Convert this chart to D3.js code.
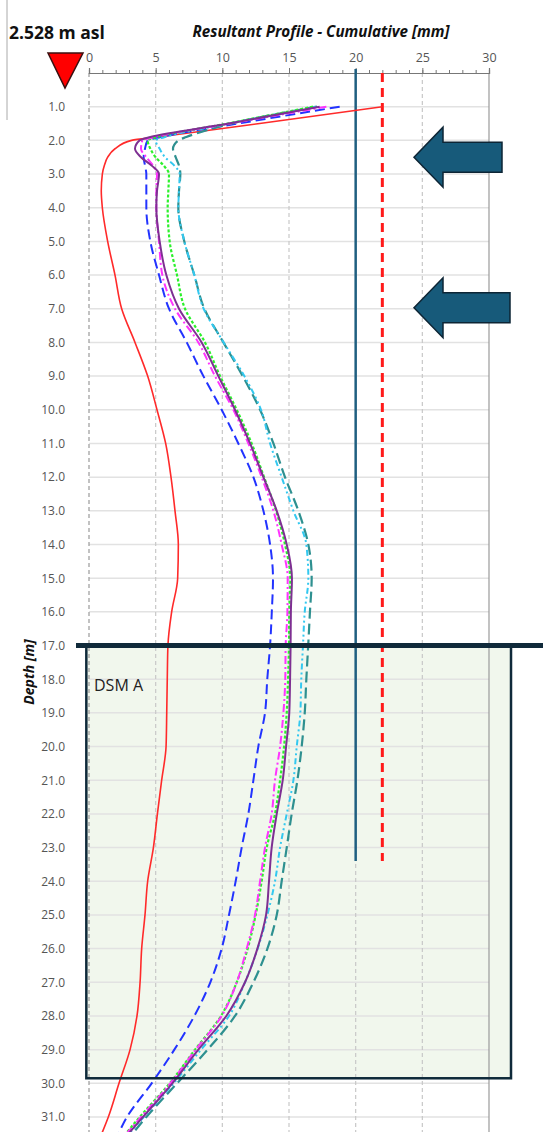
<!DOCTYPE html>
<html>
<head>
<meta charset="utf-8">
<script src="https://cdn.jsdelivr.net/npm/d3@7"></script>
<style>
  body { margin: 0; background: #fff; }
  svg { display: block; font-family: "Open Sans", Lato, sans-serif; }
</style>
</head>
<body>
<svg id="chart" width="543" height="1132"></svg>
<script>
// depth points (m) shared by every profile
const depths = [1.0, 1.5, 1.9, 2.0, 2.25, 2.5, 2.75, 3.0, 3.5, 4, 5, 6, 7, 8, 9, 10, 11, 12, 13, 14, 15,
  16, 17, 18, 19, 20, 21, 22, 23, 24, 25, 26, 27, 28, 29, 30, 31, 31.5];

// cumulative displacement (mm)
const red = [22.0, 12.8, 5.2, 3.2, 1.95, 1.4, 1.15, 1.0, 0.92, 1.0, 1.4, 1.95, 2.45, 3.45, 4.4, 5.1, 5.75, 6.15, 6.45, 6.7, 6.65,
  6.2, 5.92, 5.87, 5.83, 5.78, 5.45, 5.13, 4.83, 4.4, 4.2, 3.95, 3.83, 3.6, 3.08, 2.25, 1.45, 0.95];
const blue = [18.8, 11.2, 5.4, 4.4, 4.2, 4.1, 4.2, 4.3, 4.3, 4.3, 4.6, 5.25, 6.0, 7.33, 8.58, 9.95, 11.2, 12.33, 13.08, 13.58, 13.8,
  13.71, 13.58, 13.37, 13.2, 12.7, 12.33, 11.95, 11.45, 11.0, 10.5, 9.95, 9.1, 7.9, 6.4, 4.7, 2.85, 2.2];
const purple = [17.3, 10.5, 4.6, 3.8, 3.45, 3.9, 4.7, 5.25, 5.1, 5.05, 5.3, 5.8, 6.75, 8.45, 9.7, 10.95, 12.08, 13.08, 14.08, 14.83, 15.22,
  15.14, 15.12, 15.08, 15.02, 14.78, 14.53, 14.08, 13.7, 13.5, 13.28, 12.63, 11.7, 10.3, 8.2, 6.25, 4.05, 2.95];
const magenta = [17.8, 10.6, 4.9, 4.0, 3.9, 4.3, 4.8, 5.1, 5.05, 5.05, 5.25, 5.5, 6.45, 8.2, 9.45, 10.83, 11.95, 12.95, 13.83, 14.45, 14.9,
  14.88, 14.75, 14.72, 14.58, 14.33, 13.95, 13.7, 13.2, 12.83, 12.45, 11.83, 11.08, 9.95, 8.0, 6.1, 3.9, 2.8];
const green = [16.8, 10.4, 5.1, 4.4, 4.6, 5.0, 5.6, 6.0, 5.95, 5.9, 6.05, 6.6, 7.2, 8.7, 9.83, 11.08, 12.2, 13.13, 14.03, 14.7, 15.1,
  15.02, 15.0, 14.93, 14.83, 14.63, 14.33, 13.95, 13.33, 12.95, 12.5, 11.9, 11.08, 9.9, 7.95, 6.05, 3.8, 2.75];
const cyan = [17.0, 10.5, 5.7, 5.0, 5.3, 5.7, 6.4, 6.8, 6.75, 6.7, 7.15, 7.9, 8.6, 10.1, 11.65, 12.9, 13.58, 14.45, 15.33, 16.3, 16.45,
  16.18, 16.05, 15.92, 15.85, 15.58, 15.33, 14.83, 14.33, 13.95, 13.38, 12.65, 11.7, 10.5, 8.4, 6.35, 4.1, 3.0];
const teal = [17.1, 10.7, 7.3, 6.7, 6.3, 6.5, 6.75, 6.85, 6.75, 6.7, 7.15, 7.9, 8.65, 10.08, 11.53, 12.83, 13.83, 14.7, 15.7, 16.45, 16.7,
  16.57, 16.44, 16.3, 16.18, 15.95, 15.63, 15.2, 14.83, 14.45, 14.08, 13.38, 12.33, 10.95, 8.9, 6.6, 4.3, 3.25];

const xTicks = [0, 5, 10, 15, 20, 25, 30];
const depthTicks = d3.range(1, 32);

// reference lines and zone
const limitSolid = 20, limitDashed = 22, limitEnd = 23.4;
const dsmTop = 17.0, dsmBottom = 29.85;
const arrowDepths = [2.5, 6.97];

const svg = d3.select("#chart");
const x = d3.scaleLinear().domain([0, 30]).range([89, 489]);
const y = d3.scaleLinear().domain([0, 31]).range([73, 1117]);

// DSM A zone fill
svg.append("rect")
  .attr("x", x(-0.2)).attr("y", y(dsmTop))
  .attr("width", x(31.65) - x(-0.2)).attr("height", y(dsmBottom) - y(dsmTop))
  .attr("fill", "#f1f7ed");

// horizontal grid
svg.append("g").selectAll("line").data(depthTicks).enter().append("line")
  .attr("x1", x(0)).attr("x2", x(30))
  .attr("y1", d => y(d)).attr("y2", d => y(d))
  .attr("stroke", "#e2e2e2").attr("stroke-width", 1.5);

// vertical grid
svg.append("g").selectAll("line").data(xTicks).enter().append("line")
  .attr("x1", d => x(d)).attr("x2", d => x(d))
  .attr("y1", y(0)).attr("y2", 1132)
  .attr("stroke", d => (d == 30 || d == 0) ? "#9a9a9a" : "#c8c8c8")
  .attr("stroke-width", 1.2)
  .attr("stroke-dasharray", d => d == 30 ? null : "4,3");

// top axis
const axisMinor = svg.append("g").attr("transform", `translate(0,${y(0)})`)
  .call(d3.axisTop(x).tickValues(d3.range(0, 31)).tickSize(3).tickFormat(""));
const axisMajor = svg.append("g").attr("transform", `translate(0,${y(0)})`)
  .call(d3.axisTop(x).tickValues(xTicks).tickSize(5).tickPadding(6).tickFormat(d3.format("d")));
[axisMinor, axisMajor].forEach(a => {
  a.select(".domain").attr("stroke", "#777").attr("stroke-width", 1.2);
  a.selectAll(".tick line").attr("stroke", "#777");
});
axisMajor.selectAll("text").attr("fill", "#555").attr("font-size", 12.5).attr("font-family", "Open Sans");

// depth labels
const yAxis = svg.append("g").attr("transform", `translate(${x(0)},0)`)
  .call(d3.axisLeft(y).tickValues(depthTicks).tickSize(0).tickPadding(24).tickFormat(d3.format(".1f")));
yAxis.select(".domain").remove();
yAxis.selectAll("text").attr("fill", "#555").attr("font-size", 12).attr("font-family", "Open Sans");

// reference verticals
svg.append("line")
  .attr("x1", x(limitSolid)).attr("x2", x(limitSolid))
  .attr("y1", y(0) - 4).attr("y2", y(limitEnd))
  .attr("stroke", "#1f5f80").attr("stroke-width", 2.5);
svg.append("line")
  .attr("x1", x(limitDashed)).attr("x2", x(limitDashed))
  .attr("y1", y(0)).attr("y2", y(limitEnd))
  .attr("stroke", "#ff1a1a").attr("stroke-width", 3).attr("stroke-dasharray", "9,6");

// profiles
const series = [
  { name: "red", values: red, color: "#ff2a2a", width: 1.6, dash: null },
  { name: "blue", values: blue, color: "#2233ff", width: 2, dash: "10,5" },
  { name: "teal", values: teal, color: "#2e9090", width: 2.2, dash: "11,5" },
  { name: "cyan", values: cyan, color: "#33c8f0", width: 2, dash: "6,3,2,3,2,3" },
  { name: "green", values: green, color: "#2cf02c", width: 2.2, dash: "3,2" },
  { name: "magenta", values: magenta, color: "#ff33ff", width: 2, dash: "8,3,2,3" },
  { name: "purple", values: purple, color: "#7e2f92", width: 2, dash: null }
];

const line = d3.line()
  .x(d => x(d.v)).y(d => y(d.d))
  .curve(d3.curveMonotoneY);

svg.append("g").selectAll("path").data(series).enter().append("path")
  .attr("d", s => line(s.values.map((v, i) => ({ v: v, d: depths[i] }))))
  .attr("fill", "none")
  .attr("stroke", s => s.color)
  .attr("stroke-width", s => s.width)
  .attr("stroke-dasharray", s => s.dash);

// DSM A zone border and top line
svg.append("rect")
  .attr("x", x(-0.2)).attr("y", y(dsmTop))
  .attr("width", x(31.65) - x(-0.2)).attr("height", y(dsmBottom) - y(dsmTop))
  .attr("fill", "none").attr("stroke", "#0f2a3a").attr("stroke-width", 2.5);
svg.append("line")
  .attr("x1", 76).attr("x2", 543)
  .attr("y1", y(dsmTop)).attr("y2", y(dsmTop))
  .attr("stroke", "#102a3a").attr("stroke-width", 5);
svg.append("text")
  .attr("x", 94).attr("y", y(dsmTop) + 45)
  .attr("font-size", 16).attr("fill", "#222")
  .text("DSM A");

// arrows
const arrowLen = [88, 96];
svg.append("g").selectAll("path").data(arrowDepths).enter().append("path")
  .attr("d", (d, i) => {
    const cy = y(d), tip = 414, back = 443, end = tip + arrowLen[i];
    return `M${tip},${cy} L${back},${cy - 30} L${back},${cy - 15} L${end},${cy - 15} L${end},${cy + 15} L${back},${cy + 15} L${back},${cy + 30} Z`;
  })
  .attr("fill", "#175a7a").attr("stroke", "#0d2535").attr("stroke-width", 1.5);

// water level triangle
svg.append("path")
  .attr("d", "M48,53 L83,53 L65,88 Z")
  .attr("fill", "#ff0000").attr("stroke", "#3a1010").attr("stroke-width", 1.5);

// titles
svg.append("text")
  .attr("x", 9).attr("y", 39)
  .attr("font-size", 17.5).attr("font-weight", "bold").attr("fill", "#111")
  .text("2.528 m asl");
svg.append("text")
  .attr("x", 321).attr("y", 37)
  .attr("text-anchor", "middle")
  .attr("font-size", 15.2).attr("font-weight", "bold").attr("font-style", "italic").attr("fill", "#111")
  .text("Resultant Profile - Cumulative [mm]");
svg.append("text")
  .attr("transform", "translate(34,672) rotate(-90)")
  .attr("text-anchor", "middle")
  .attr("font-size", 14).attr("font-weight", "bold").attr("font-style", "italic").attr("fill", "#111")
  .text("Depth [m]");

// thin frame line at far left
svg.append("line")
  .attr("x1", 7).attr("x2", 7).attr("y1", 0).attr("y2", 120)
  .attr("stroke", "#aaa").attr("stroke-width", 1);
</script>
</body>
</html>
